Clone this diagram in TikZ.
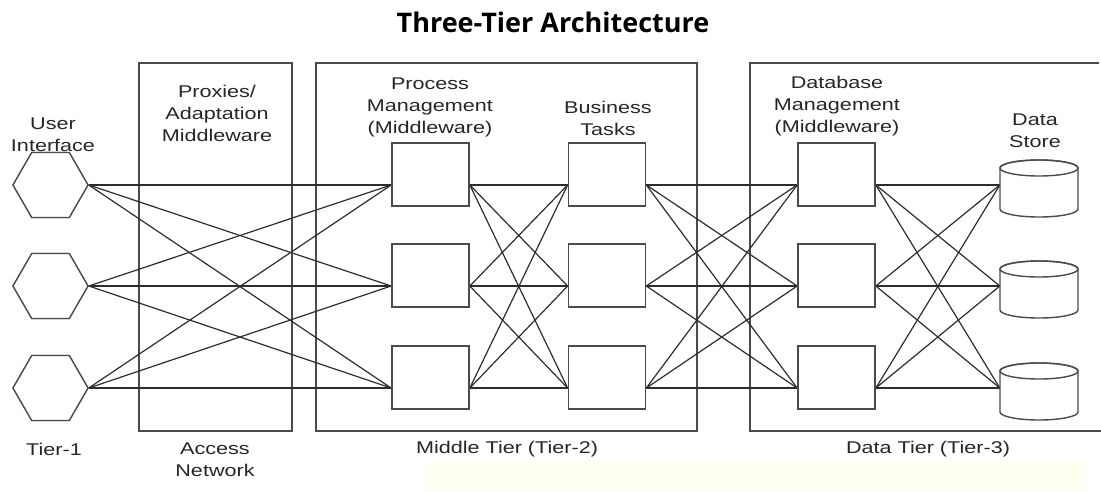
\documentclass[tikz,border=0pt]{standalone}
\usepackage{fontspec}
\setmainfont{Liberation Sans}[FakeStretch=1.27]
\newfontfamily\titlefont{Open Sans}
\usetikzlibrary{shapes.geometric}
\definecolor{linkc}{RGB}{45,45,45}
\definecolor{framec}{RGB}{75,75,75}
\definecolor{paley}{RGB}{255,255,242}
\tikzset{
  link/.style={draw=linkc, line width=1.2pt},
  tierframe/.style={draw=framec, line width=1.5pt},
  compbox/.style={draw=framec, line width=1.7pt, fill=white, minimum width=77pt, minimum height=63pt, inner sep=0pt},
  hexnode/.style={draw=framec, line width=1.3pt, fill=white, regular polygon, regular polygon sides=6, minimum size=75pt, inner sep=0pt},
  cylslot/.style={minimum width=78pt, minimum height=57pt, inner sep=0pt},
  lbl/.style={font=\fontsize{17}{22}\selectfont, text=black!85, align=center, inner sep=0pt}
}
\begin{document}
\begin{tikzpicture}[x=1pt, y=-1pt]
\useasboundingbox (0,0) rectangle (1101,491);
% faint yellow band
\fill[paley] (425,462) rectangle (1085,491);
% title
\node[font=\titlefont\bfseries\fontsize{27}{32}\selectfont, inner sep=0pt] (title) at (553,22) {Three-Tier Architecture};
% tier frames
\draw[tierframe] (139,63) rectangle (292,431);
\draw[tierframe] (316,63) rectangle (697,431);
\draw[tierframe] (1099,63) -- (750,63) -- (750,431) -- (1101,431);
% rows
\foreach \i/\y in {1/185,2/286,3/388}{
  \coordinate (row\i) at (0,\y);
  \node[hexnode] (hex\i) at (50.5,\y) {};
  \node[compbox] (pm\i) at (430.5,\y-10.5) {};
  \node[compbox] (bt\i) at (607,\y-10.5) {};
  \node[compbox] (db\i) at (836.5,\y-10.5) {};
  \node[cylslot] (ds\i) at (1039,\y+3.5) {};
  \coordinate (pmL\i) at (pm\i.west |- row\i);
  \coordinate (pmR\i) at (pm\i.east |- row\i);
  \coordinate (btL\i) at (bt\i.west |- row\i);
  \coordinate (btR\i) at (bt\i.east |- row\i);
  \coordinate (dbL\i) at (db\i.west |- row\i);
  \coordinate (dbR\i) at (db\i.east |- row\i);
  \coordinate (dsL\i) at (ds\i.west |- row\i);
}
% connectors
\foreach \i in {1,2,3}{
  \foreach \j in {1,2,3}{
    \draw[link] (hex\i.east) -- (pmL\j);
    \draw[link] (pmR\i) -- (btL\j);
    \draw[link] (btR\i) -- (dbL\j);
    \draw[link] (dbR\i) -- (dsL\j);
  }
}
% nodes on top
\foreach \i/\y in {1/185,2/286,3/388}{
  \node[hexnode] at (hex\i) {};
  \node[compbox] at (pm\i) {};
  \node[compbox] at (bt\i) {};
  \node[compbox] at (db\i) {};
  \filldraw[draw=framec, fill=white, line width=1.4pt]
    (1000,\y-17) -- (1000,\y+24) arc[start angle=180, end angle=0, x radius=39, y radius=8] -- (1078,\y-17) arc[start angle=0, end angle=-180, x radius=39, y radius=8] -- cycle;
  \draw[draw=framec, line width=1.4pt] (1039,\y-17) ellipse[x radius=39, y radius=8];
}
% labels
\node[lbl] (ui) at (53,135) {User\\Interface};
\node[lbl] (prox) at (217,113) {Proxies/\\Adaptation\\Middleware};
\node[lbl] (pmt) at (430,107) {Process\\Management\\(Middleware)};
\node[lbl] (btt) at (608,118) {Business\\Tasks};
\node[lbl] (dbt) at (837,106) {Database\\Management\\(Middleware)};
\node[lbl] (dst) at (1035,131) {Data\\Store};
\node[lbl] (t1) at (54,449) {Tier-1};
\node[lbl] (an) at (215,460) {Access\\Network};
\node[lbl] (mt) at (507,449) {Middle Tier (Tier-2)};
\node[lbl] (dt) at (928,449) {Data Tier (Tier-3)};
\end{tikzpicture}
\end{document}
